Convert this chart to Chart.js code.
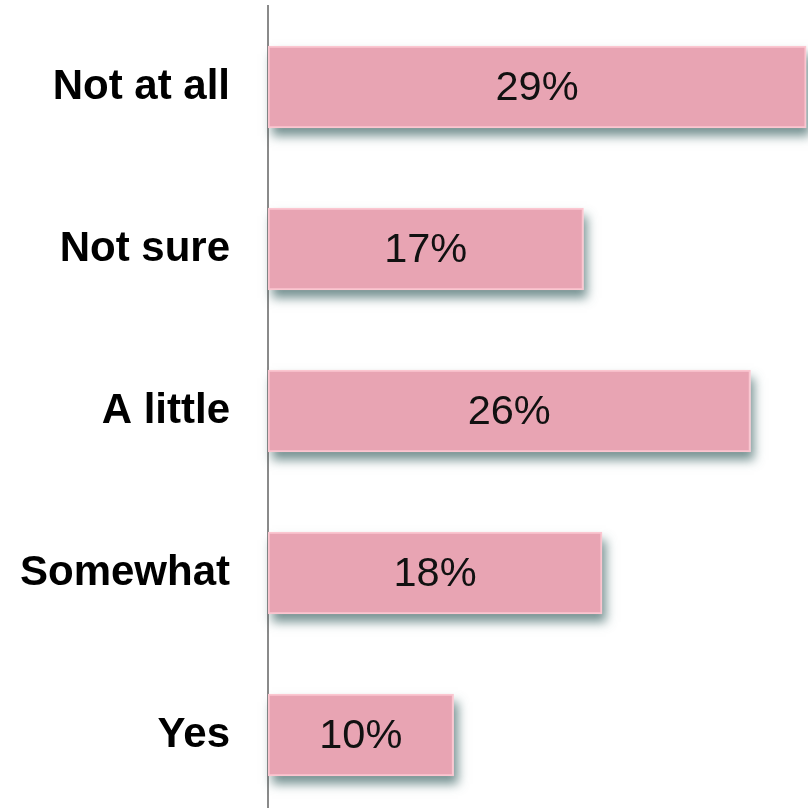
<!DOCTYPE html>
<html>
<head>
  <title>Bar chart</title>
  <script src="https://cdn.jsdelivr.net/npm/chart.js"></script>
  <style>
    body { margin: 0; overflow: hidden; background: #fff; }
  </style>
</head>
<body>
  <canvas id="myChart" width="808" height="816"></canvas>
  <script>
    // answers, top to bottom
    var categories = ['Not at all', 'Not sure', 'A little', 'Somewhat', 'Yes'];
    var percents = [29, 17, 26, 18, 10];

    // soft drop shadow under each bar (drawn before the bars)
    var barShadow = {
      id: 'barShadow',
      beforeDatasetsDraw: function(chart) {
        var ctx = chart.ctx;
        var meta = chart.getDatasetMeta(0);
        ctx.save();
        ctx.shadowColor = 'rgba(60, 100, 100, 0.7)';
        ctx.shadowBlur = 10;
        ctx.shadowOffsetX = 4;
        ctx.shadowOffsetY = 8;
        ctx.fillStyle = '#ffffff';
        meta.data.forEach(function(bar) {
          var p = bar.getProps(['x', 'y', 'base', 'height'], true);
          ctx.fillRect(p.base, p.y - p.height / 2, p.x - p.base, p.height);
        });
        ctx.restore();
      }
    };

    // value text in the middle of each bar
    var valueLabels = {
      id: 'valueLabels',
      afterDatasetsDraw: function(chart) {
        var ctx = chart.ctx;
        var meta = chart.getDatasetMeta(0);
        ctx.save();
        ctx.font = '41.5px "Liberation Sans", Arial, sans-serif';
        ctx.fillStyle = '#111';
        ctx.textAlign = 'center';
        ctx.textBaseline = 'middle';
        meta.data.forEach(function(bar, i) {
          var p = bar.getProps(['x', 'y', 'base'], true);
          ctx.fillText(percents[i] + '%', (p.x + p.base) / 2, p.y + 2);
        });
        ctx.restore();
      }
    };

    var ctx = document.getElementById('myChart').getContext('2d');
    var myChart = new Chart(ctx, {
      type: 'bar',
      data: {
        labels: categories,
        datasets: [{
          data: percents,
          backgroundColor: '#E8A4B3',
          borderColor: '#FBC6D0',
          borderWidth: 2,
          borderSkipped: false,
          barThickness: 82
        }]
      },
      options: {
        indexAxis: 'y',
        responsive: false,
        devicePixelRatio: 1,
        animation: false,
        layout: { padding: { top: 6, right: 0, bottom: 0, left: 0 } },
        plugins: {
          legend: { display: false },
          tooltip: { enabled: false }
        },
        scales: {
          x: {
            display: false,
            min: 0,
            max: 29.1
          },
          y: {
            afterFit: function(scale) {
              scale.width = 268;
              scale.paddingTop = 0;
              scale.paddingBottom = 0;
            },
            grid: { display: false, drawTicks: false },
            border: { display: true, color: '#8a8a8a', width: 2 },
            ticks: {
              padding: 38,
              color: '#000',
              font: { family: '"Liberation Sans", Arial, sans-serif', size: 42, weight: 'bold' }
            }
          }
        }
      },
      plugins: [barShadow, valueLabels]
    });
  </script>
</body>
</html>
